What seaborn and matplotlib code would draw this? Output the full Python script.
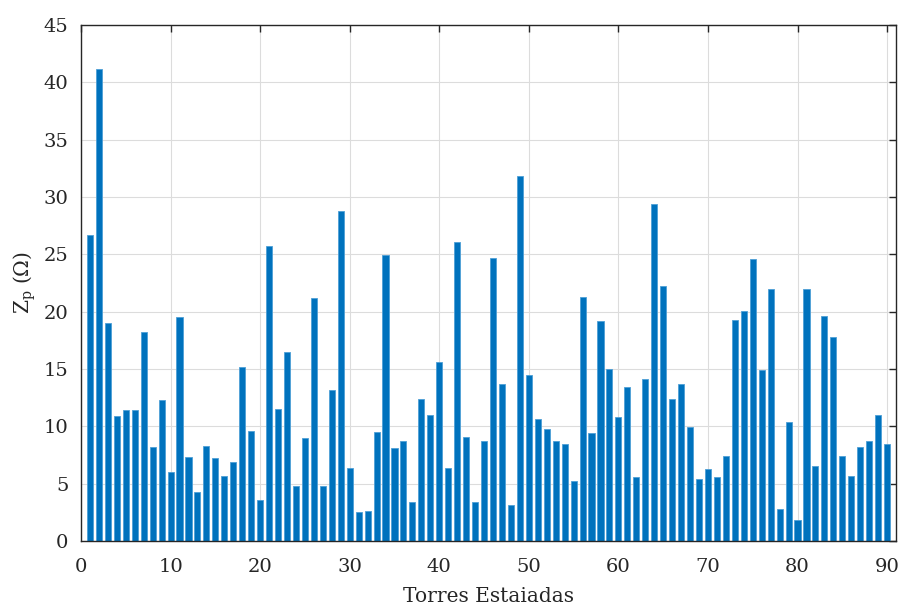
import numpy as np
import pandas as pd
import matplotlib
matplotlib.use("Agg")
import matplotlib.pyplot as plt
import seaborn as sns

# Impedância de pé de torre por torre estaiada
torres = list(range(1, 91))
zp = [26.7, 41.2, 19.0, 10.9, 11.4, 11.4, 18.2, 8.2, 12.3, 6.0,
      19.5, 7.3, 4.3, 8.3, 7.2, 5.7, 6.9, 15.2, 9.6, 3.6,
      25.7, 11.5, 16.5, 4.8, 9.0, 21.2, 4.8, 13.2, 28.8, 6.4,
      2.5, 2.6, 9.5, 24.9, 8.1, 8.7, 3.4, 12.4, 11.0, 15.6,
      6.4, 26.1, 9.1, 3.4, 8.7, 24.7, 13.7, 3.1, 31.8, 14.5,
      10.6, 9.8, 8.7, 8.5, 5.2, 21.3, 9.4, 19.2, 15.0, 10.8,
      13.4, 5.6, 14.1, 29.4, 22.2, 12.4, 13.7, 9.9, 5.4, 6.3,
      5.6, 7.4, 19.3, 20.1, 24.6, 14.9, 22.0, 2.8, 10.4, 1.8,
      22.0, 6.5, 19.6, 17.8, 7.4, 5.7, 8.2, 8.7, 11.0, 8.5]
xticks = [0, 10, 20, 30, 40, 50, 60, 70, 80, 90]
yticks = [0, 5, 10, 15, 20, 25, 30, 35, 40, 45]

df = pd.DataFrame({"Torre": torres, "Zp": zp})

sns.set_style("white")
plt.rcParams["font.family"] = ["DejaVu Serif", "DejaVu Sans"]
plt.rcParams["mathtext.fontset"] = "dejavuserif"

fig = plt.figure(figsize=(9.05, 6.1), dpi=100)
ax = fig.add_axes([0.0895, 0.1131, 0.9006, 0.846])

sns.barplot(data=df, x="Torre", y="Zp", native_scale=True, color="#0072BD",
            saturation=1, width=0.68, linewidth=0.6, edgecolor="#4d9fd6", ax=ax)

ax.set_xlim(0, 91)
ax.set_ylim(0, 45)
ax.set_xticks(xticks)
ax.set_yticks(yticks)
ax.grid(True, color="#dcdcdc", linewidth=0.8)
ax.set_axisbelow(True)
ax.tick_params(direction="in", length=5, width=1, colors="#262626",
               labelsize=14, top=True, right=True, labelcolor="#262626")
ax.tick_params(axis="x", pad=12)
ax.tick_params(axis="y", pad=9)
for s in ax.spines.values():
    s.set_color("#262626")
    s.set_linewidth(1)
ax.set_xlabel("Torres Estaiadas", fontsize=14.5, color="#262626", labelpad=8)
ax.set_ylabel(r"Z$_\mathrm{p}$ (Ω)", fontsize=14.5, color="#262626", labelpad=4)

fig.savefig("out.png", dpi=100)
